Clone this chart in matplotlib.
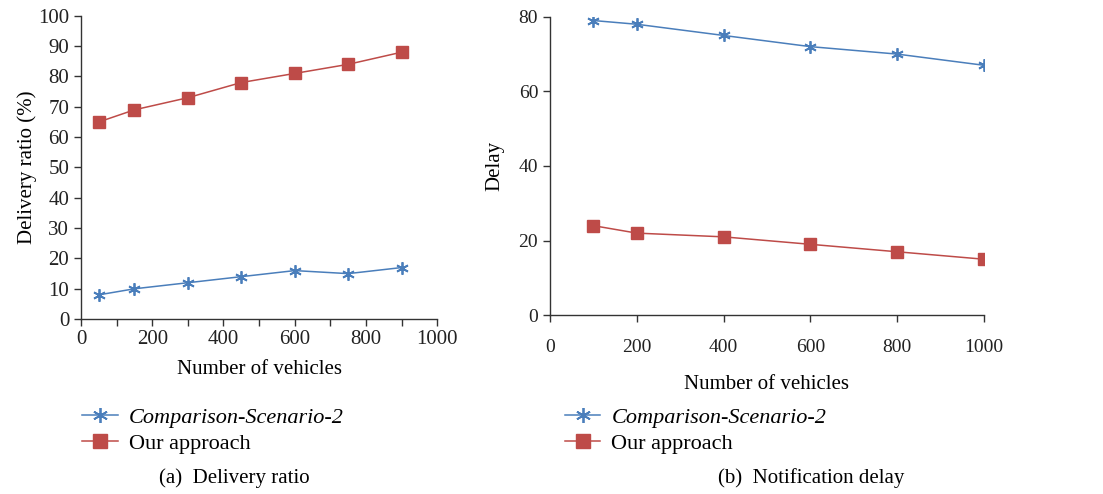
import matplotlib
matplotlib.use("Agg")
import matplotlib.pyplot as plt
from matplotlib.ticker import MultipleLocator

plt.rcParams["font.family"] = ["Liberation Serif", "DejaVu Serif"]

# (a) delivery ratio
x_a = [50, 150, 300, 450, 600, 750, 900]
comp_a = [8, 10, 12, 14, 16, 15, 17]
ours_a = [65, 69, 73, 78, 81, 84, 88]

# (b) notification delay
x_b = [100, 200, 400, 600, 800, 1000]
comp_b = [79, 78, 75, 72, 70, 67]
ours_b = [24, 22, 21, 19, 17, 15]

labels = ["Comparison-Scenario-2", "Our approach"]
blue = "#4a7ebb"
red = "#be4b48"
star = (6, 2, 0)

fig = plt.figure(figsize=(11.03, 4.94), dpi=100)
ax1 = fig.add_axes([0.0734, 0.354, 0.323, 0.614])
ax2 = fig.add_axes([0.4986, 0.362, 0.3935, 0.604])

for ax in (ax1, ax2):
    for s in ("top", "right"):
        ax.spines[s].set_visible(False)
    for s in ("left", "bottom"):
        ax.spines[s].set_color("#333333")
        ax.spines[s].set_linewidth(1.0)
    ax.tick_params(direction="out", length=5, width=1, colors="#333333",
                   labelcolor="#222222")

# ---- panel a ----
l1, = ax1.plot(x_a, comp_a, color=blue, lw=1.1, marker=star, ms=9, mew=1.3)
l2, = ax1.plot(x_a, ours_a, color=red, lw=1.1, marker="s", ms=8)
ax1.set_xlim(0, 1000)
ax1.set_ylim(0, 100)
ax1.xaxis.set_major_locator(MultipleLocator(200))
ax1.xaxis.set_minor_locator(MultipleLocator(100))
ax1.yaxis.set_major_locator(MultipleLocator(10))
ax1.tick_params(axis="both", labelsize=15)
ax1.tick_params(axis="x", which="minor", length=5, width=1, color="#333333")
ax1.tick_params(axis="x", pad=3)
ax1.set_xlabel("Number of vehicles", fontsize=15, labelpad=8)
ax1.set_ylabel("Delivery ratio (%)", fontsize=15, labelpad=1)

# ---- panel b ----
m1, = ax2.plot(x_b, comp_b, color=blue, lw=1.1, marker=star, ms=9, mew=1.3)
m2, = ax2.plot(x_b, ours_b, color=red, lw=1.1, marker="s", ms=8)
ax2.set_xlim(0, 1000)
ax2.set_ylim(0, 80)
ax2.xaxis.set_major_locator(MultipleLocator(200))
ax2.yaxis.set_major_locator(MultipleLocator(20))
ax2.tick_params(axis="both", labelsize=14)
ax2.tick_params(axis="x", pad=12)
ax2.set_xlabel("Number of vehicles", fontsize=15, labelpad=14)
ax2.set_ylabel("Delay", fontsize=15, labelpad=10)

legend_kw = dict(loc="upper left", frameon=False, fontsize=16,
                 handlelength=1.6, handletextpad=0.5, labelspacing=0.25,
                 markerscale=1.2, borderaxespad=0, borderpad=0,
                 bbox_transform=fig.transFigure)
fig.legend([l1, l2], labels, bbox_to_anchor=(0.0743, 0.176), **legend_kw)
fig.legend([m1, m2], labels, bbox_to_anchor=(0.512, 0.176), **legend_kw)
for leg in fig.legends:
    leg.get_texts()[0].set_style("italic")

fig.text(0.212, 0.022, "(a)  Delivery ratio", ha="center", fontsize=15)
fig.text(0.735, 0.022, "(b)  Notification delay", ha="center", fontsize=15)

fig.savefig("out.png", dpi=100)
